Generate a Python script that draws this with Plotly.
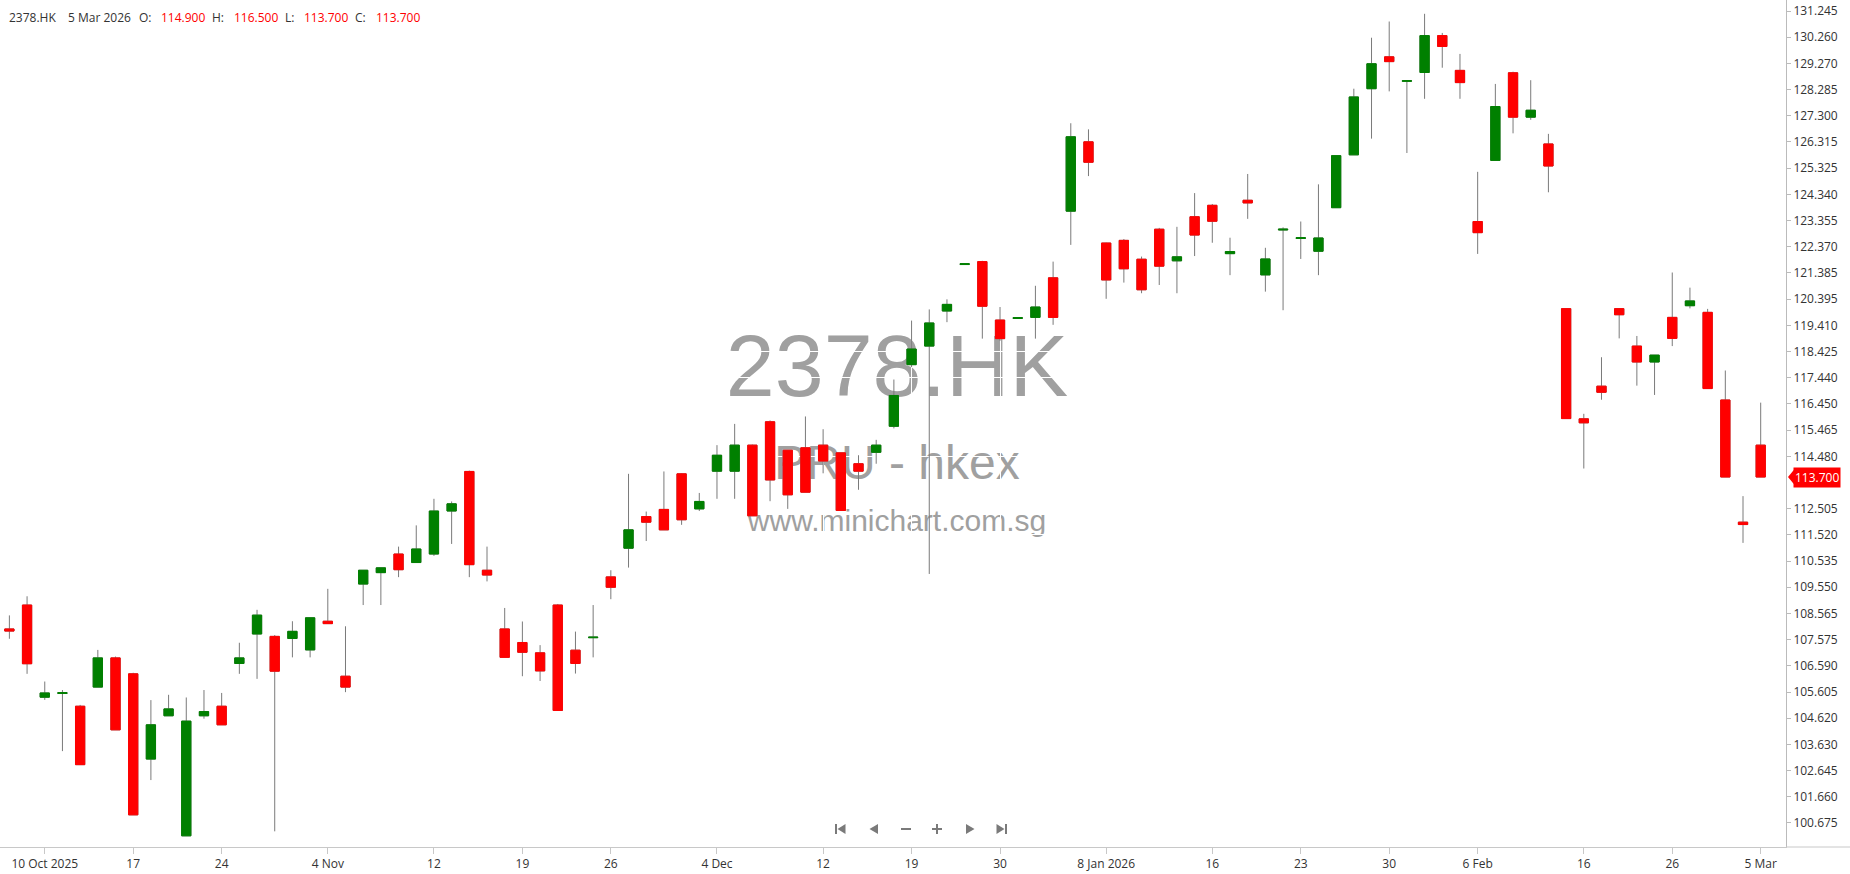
import plotly.graph_objects as go

# ---------------- data ----------------
dates = (
    ["2025-10-%02d" % d for d in [8, 9, 10, 13, 14, 15, 16, 17, 20, 21, 22, 23, 24, 27, 28, 30, 31]]
    + ["2025-11-%02d" % d for d in [3, 4, 5, 6, 7, 10, 11, 12, 13, 14, 17, 18, 19, 20, 21, 24, 25, 26, 27, 28]]
    + ["2025-12-%02d" % d for d in [1, 2, 3, 4, 5, 8, 9, 10, 11, 12, 15, 16, 17, 18, 19, 22, 23, 24, 29, 30, 31]]
    + ["2026-01-%02d" % d for d in [2, 5, 6, 7, 8, 9, 12, 13, 14, 15, 16, 19, 20, 21, 22, 23, 26, 27, 28, 29, 30]]
    + ["2026-02-%02d" % d for d in [2, 3, 4, 5, 6, 9, 10, 11, 12, 13, 16, 20, 23, 24, 25, 26, 27]]
    + ["2026-03-%02d" % d for d in [2, 3, 4, 5]]
)

opens = [
    107.98, 108.88, 105.41, 105.55, 105.07, 105.79, 106.89, 106.29, 103.08, 104.71,
    100.19, 104.71, 105.07, 106.68, 107.79, 107.70, 107.62, 107.19, 108.27, 106.20,
    109.67, 110.10, 110.80, 110.48, 110.80, 112.42, 113.91, 110.19, 107.98, 107.47,
    107.08, 108.88, 107.18, 107.65, 109.94, 111.02, 112.21, 112.48, 113.82, 112.50,
    113.92, 113.92, 114.90, 115.78, 114.71, 114.80, 114.90, 114.61, 114.20, 114.63,
    115.61, 117.93, 118.63, 119.95, 121.70, 121.81, 119.61, 119.67, 119.71, 121.20,
    123.71, 126.32, 122.51, 122.61, 121.90, 123.03, 121.84, 123.50, 123.93, 122.11,
    124.12, 121.31, 123.00, 122.68, 122.20, 123.84, 125.83, 128.32, 129.52, 128.60,
    128.93, 130.32, 129.01, 123.32, 125.62, 128.92, 127.25, 126.24, 120.04, 115.89,
    117.12, 120.04, 118.63, 118.03, 119.71, 120.15, 119.90, 116.60, 112.00, 114.90,
]
highs = [
    108.49, 109.21, 106.00, 105.68, 105.12, 107.19, 106.94, 106.33, 105.30, 105.50,
    105.40, 105.68, 105.57, 107.46, 108.70, 107.75, 108.27, 108.40, 109.49, 108.08,
    110.19, 110.28, 111.08, 111.88, 112.88, 112.78, 113.94, 111.08, 108.77, 108.26,
    107.37, 108.92, 107.88, 108.88, 110.19, 113.82, 112.40, 113.91, 113.84, 113.10,
    114.90, 115.70, 114.92, 115.83, 114.71, 115.98, 115.50, 114.61, 114.52, 115.10,
    117.37, 119.59, 120.01, 120.39, 121.74, 121.84, 120.10, 119.71, 120.90, 121.81,
    127.02, 126.79, 122.52, 122.66, 122.00, 123.08, 123.12, 124.39, 123.98, 122.71,
    125.11, 122.33, 123.10, 123.32, 124.72, 125.80, 128.32, 130.24, 130.85, 128.64,
    131.14, 130.42, 129.63, 125.19, 128.50, 128.96, 128.64, 126.62, 120.06, 116.08,
    118.21, 120.06, 119.01, 118.29, 121.40, 120.83, 120.03, 117.71, 112.98, 116.50,
]
lows = [
    107.61, 106.29, 105.31, 103.38, 102.87, 105.79, 104.18, 100.98, 102.29, 104.71,
    100.19, 104.60, 104.37, 106.29, 106.10, 100.36, 106.91, 106.91, 108.18, 105.60,
    108.88, 108.88, 109.93, 110.48, 110.73, 111.18, 109.93, 109.77, 106.91, 106.20,
    106.02, 104.91, 106.30, 106.91, 109.10, 110.29, 111.29, 111.71, 111.90, 112.42,
    112.88, 112.88, 112.24, 112.79, 112.50, 113.13, 113.84, 112.42, 113.22, 114.20,
    115.53, 117.84, 110.05, 119.53, 121.69, 118.91, 118.83, 119.66, 118.91, 119.43,
    122.44, 125.03, 120.41, 121.02, 120.62, 120.93, 120.62, 122.02, 122.52, 121.30,
    123.42, 120.68, 119.98, 121.91, 121.30, 123.84, 125.83, 126.44, 128.22, 125.90,
    127.94, 129.11, 127.94, 122.10, 125.62, 126.64, 127.15, 124.42, 115.90, 114.02,
    116.61, 118.92, 117.14, 116.79, 118.63, 120.05, 117.03, 113.70, 111.22, 113.70,
]
closes = [
    107.90, 106.67, 105.57, 105.58, 102.87, 106.89, 104.18, 100.98, 104.37, 104.97,
    104.51, 104.87, 104.37, 106.89, 108.50, 106.39, 107.89, 108.40, 108.18, 105.79,
    110.19, 110.28, 110.21, 110.99, 112.42, 112.69, 110.40, 110.01, 106.91, 107.10,
    106.40, 104.91, 106.68, 107.67, 109.55, 111.71, 112.00, 111.71, 112.09, 112.78,
    114.52, 114.90, 112.24, 113.59, 113.03, 113.13, 114.30, 112.44, 113.92, 114.90,
    116.77, 118.52, 119.50, 120.20, 121.73, 120.13, 118.91, 119.70, 120.10, 119.71,
    126.51, 125.55, 121.12, 121.54, 120.75, 121.64, 121.99, 122.81, 123.33, 122.19,
    124.02, 121.91, 123.03, 122.71, 122.70, 125.80, 128.01, 129.26, 129.34, 128.62,
    130.32, 129.91, 128.55, 122.90, 127.65, 127.25, 127.51, 125.41, 115.90, 115.74,
    116.89, 119.81, 118.03, 118.29, 118.92, 120.33, 117.03, 113.70, 111.91, 113.70,
]

tick_dates = ["2025-10-10", "2025-10-17", "2025-10-24", "2025-11-04", "2025-11-12",
              "2025-11-19", "2025-11-26", "2025-12-04", "2025-12-12", "2025-12-19",
              "2025-12-30", "2026-01-08", "2026-01-16", "2026-01-23", "2026-01-30",
              "2026-02-06", "2026-02-16", "2026-02-26", "2026-03-05"]
tick_text = ["10 Oct 2025", "17", "24", "4 Nov", "12", "19", "26", "4 Dec", "12", "19",
             "30", "8 Jan 2026", "16", "23", "30", "6 Feb", "16", "26", "5 Mar"]

y_tick_labels = ["131.245", "130.260", "129.270", "128.285", "127.300", "126.315",
                 "125.325", "124.340", "123.355", "122.370", "121.385", "120.395",
                 "119.410", "118.425", "117.440", "116.450", "115.465", "114.480",
                 "112.505", "111.520", "110.535", "109.550", "108.565", "107.575",
                 "106.590", "105.605", "104.620", "103.630", "102.645", "101.660",
                 "100.675"]

symbol = "2378.HK"
subtitle = "PRU - hkex"
site = "www.minichart.com.sg"
last_date_label = "5 Mar 2026"

# ---------------- styling / geometry ----------------
W, H = 1850, 874
ML, MR, MT, MB = 0, 64, 0, 27
PW, PH = W - ML - MR, H - MT - MB
RED, GREEN, GRAY = "#ff0000", "#008000", "#7a7a7a"
TXT = "#333333"
FONT = "Open Sans, Noto Sans, sans-serif"
WFONT = "Liberation Sans, Arial, sans-serif"


def px(x):
    return (x - ML) / PW


def py(y):
    return (H - MB - y) / PH


fig = go.Figure()

# wicks (grey)
fig.add_trace(go.Candlestick(
    x=dates, open=opens, high=highs, low=lows, close=closes,
    increasing=dict(line=dict(color=GRAY, width=1), fillcolor=GRAY),
    decreasing=dict(line=dict(color=GRAY, width=1), fillcolor=GRAY),
    whiskerwidth=0, hoverinfo="skip", showlegend=False))

# bodies (coloured)
body_hi = [max(o, c) for o, c in zip(opens, closes)]
body_lo = [min(o, c) for o, c in zip(opens, closes)]
fig.add_trace(go.Candlestick(
    x=dates, open=opens, high=body_hi, low=body_lo, close=closes,
    increasing=dict(line=dict(color=GREEN, width=1), fillcolor=GREEN),
    decreasing=dict(line=dict(color=RED, width=1), fillcolor=RED),
    whiskerwidth=0, showlegend=False,
    text=[f"O {o:.3f} H {h:.3f} L {l:.3f} C {c:.3f}" for o, h, l, c in zip(opens, highs, lows, closes)],
    hoverinfo="x+text"))

shapes = []
# watermark (below gridlines & traces)
for txt, size, cy in [(symbol, 88, 357), (subtitle, 48, 457), (site, 30, 517)]:
    shapes.append(dict(
        type="rect", xref="paper", yref="paper",
        x0=px(597), x1=px(1197), y0=py(cy + size * 0.5), y1=py(cy - size * 0.5),
        line=dict(width=0), fillcolor="rgba(0,0,0,0)", layer="below",
        label=dict(text=txt, font=dict(family=WFONT, size=size, color="#a0a0a0"),
                   textposition="middle center")))

# x-axis line extension under y labels
shapes.append(dict(type="line", xref="paper", yref="paper", x0=1, x1=px(W), y0=0, y1=0,
                   line=dict(color="#c8c8c8", width=1)))

# last price tag arrow
last = closes[-1]
shapes.append(dict(type="path", xref="paper", yref="y",
                   path=f"M {px(1788)},{last} L {px(1794)},{last + 0.27} L {px(1794)},{last - 0.27} Z",
                   fillcolor=RED, line=dict(width=0)))

# navigation icons
ICON = "#7a7a7a"
cy = 829


def poly(pts):
    return "M " + " L ".join(f"{px(x)},{py(y)}" for x, y in pts) + " Z"


icons = []
cx = 840
icons.append(poly([(cx - 5, cy - 5), (cx - 3, cy - 5), (cx - 3, cy + 5), (cx - 5, cy + 5)]))
icons.append(poly([(cx - 2.5, cy), (cx + 5.5, cy - 5), (cx + 5.5, cy + 5)]))
cx = 874
icons.append(poly([(cx - 4.5, cy), (cx + 4, cy - 5), (cx + 4, cy + 5)]))
cx = 906
icons.append(poly([(cx - 5, cy - 1), (cx + 5, cy - 1), (cx + 5, cy + 1), (cx - 5, cy + 1)]))
cx = 937
icons.append(poly([(cx - 5, cy - 1), (cx + 5, cy - 1), (cx + 5, cy + 1), (cx - 5, cy + 1)]))
icons.append(poly([(cx - 1, cy - 5), (cx + 1, cy - 5), (cx + 1, cy + 5), (cx - 1, cy + 5)]))
cx = 970
icons.append(poly([(cx + 4.5, cy), (cx - 4, cy - 5), (cx - 4, cy + 5)]))
cx = 1002
icons.append(poly([(cx + 2.5, cy), (cx - 5.5, cy - 5), (cx - 5.5, cy + 5)]))
icons.append(poly([(cx + 3, cy - 5), (cx + 5, cy - 5), (cx + 5, cy + 5), (cx + 3, cy + 5)]))
for p in icons:
    shapes.append(dict(type="path", xref="paper", yref="paper", path=p,
                       fillcolor=ICON, line=dict(width=0)))

annotations = []
# header
hdr = [(7, symbol, TXT), (66, last_date_label, TXT),
       (137, "O:", TXT), (159, f"{opens[-1]:.3f}", RED),
       (210, "H:", TXT), (232, f"{highs[-1]:.3f}", RED),
       (283, "L:", TXT), (302, f"{lows[-1]:.3f}", RED),
       (353, "C:", TXT), (374, f"{closes[-1]:.3f}", RED)]
for x, t, col in hdr:
    annotations.append(dict(xref="paper", yref="paper", x=px(x), y=py(18), xanchor="left",
                            yanchor="middle", text=t, showarrow=False,
                            font=dict(family=FONT, size=12, color=col)))
# last price tag
annotations.append(dict(xref="paper", yref="y", x=px(1793), y=last, xanchor="left",
                        yanchor="middle", text=f"{last:.3f}", showarrow=False,
                        bgcolor=RED, borderpad=1,
                        font=dict(family=FONT, size=12, color="white")))

fig.update_layout(
    width=W, height=H,
    margin=dict(l=ML, r=MR, t=MT, b=MB, pad=0),
    paper_bgcolor="white", plot_bgcolor="white",
    boxgap=0.25,
    showlegend=False,
    shapes=shapes, annotations=annotations,
    xaxis=dict(
        type="category", range=[-0.53, 100.43],
        rangeslider=dict(visible=False),
        tickmode="array", tickvals=tick_dates, ticktext=tick_text,
        ticks="outside", ticklen=6, tickcolor="#c8c8c8",
        showline=True, linecolor="#c8c8c8", linewidth=1,
        showgrid=True, gridcolor="white", gridwidth=1, zeroline=False,
        tickfont=dict(family=FONT, size=12, color=TXT),
    ),
    yaxis=dict(
        side="right", range=[99.77, 131.66],
        tickmode="array", tickvals=[float(v) for v in y_tick_labels], ticktext=y_tick_labels,
        ticks="outside", ticklen=4, tickcolor="#bbbbbb",
        showline=True, linecolor="#bbbbbb", linewidth=1,
        showgrid=True, gridcolor="white", gridwidth=1, zeroline=False,
        tickfont=dict(family=FONT, size=12, color=TXT),
    ),
)

fig.write_html("out.html", config={"displayModeBar": False},
               post_script="document.body.style.margin='0';document.body.style.overflow='hidden';")
